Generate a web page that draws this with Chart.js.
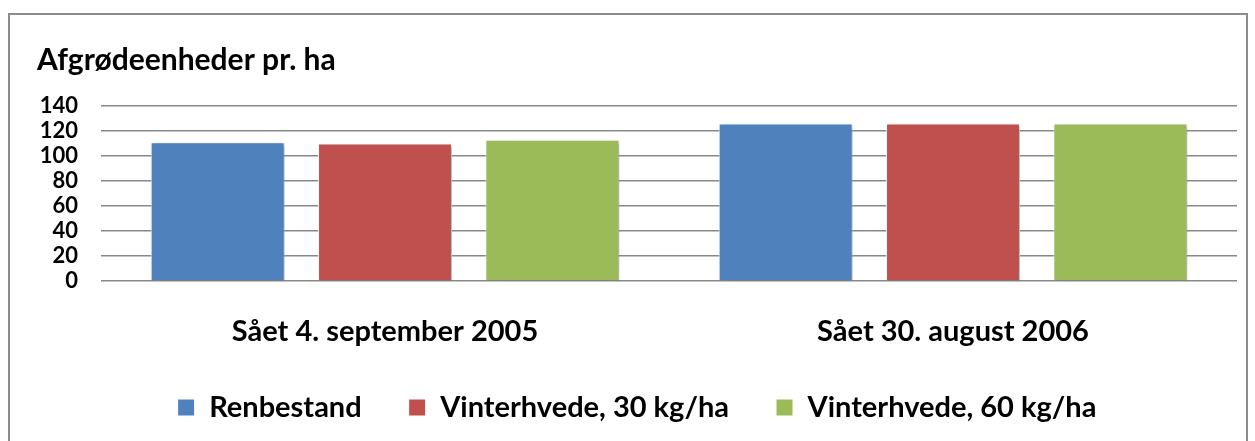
<!DOCTYPE html>
<html>
<head>
<meta charset="utf-8">
<script src="https://cdn.jsdelivr.net/npm/chart.js"></script>
<style>
    body { margin: 0; background: #fff; }
    #wrap { position: relative; width: 1255px; height: 441px; overflow: hidden; }
    #frame { position: absolute; left: 8px; top: 13px; width: 1240px; height: 460px; border: 2px solid #8c8c8c; box-sizing: border-box; }
    #chart { position: absolute; left: 0; top: 0; }
</style>
</head>
<body>
<div id="wrap">
    <div id="frame"></div>
    <canvas id="chart" width="1255" height="441"></canvas>
</div>
<script>
// Afgrødeenheder pr. ha - two sowing dates, three crop mixes
const categories = ['Sået 4. september 2005', 'Sået 30. august 2006'];
const seriesNames = ['Renbestand', 'Vinterhvede, 30 kg/ha', 'Vinterhvede, 60 kg/ha'];
const renbestand = [111, 126];
const vinterhvede30 = [110, 126];
const vinterhvede60 = [113, 126];
const yTicks = [0, 20, 40, 60, 80, 100, 120, 140];

const colors = ['#4f81bd', '#c0504d', '#9bbb59'];
const fontFamily = 'Lato, "Liberation Sans", sans-serif';

// soft shadow behind the bars, like the office chart
const barShadow = {
    id: 'barShadow',
    beforeDatasetsDraw(chart) {
        const ctx = chart.ctx;
        ctx.save();
        ctx.shadowColor = 'rgba(0, 0, 0, 0.35)';
        ctx.shadowBlur = 4;
        ctx.shadowOffsetX = 2;
        ctx.shadowOffsetY = 2;
    },
    afterDatasetsDraw(chart) {
        chart.ctx.restore();
    }
};

function makeDataset(i, values) {
    return {
        label: seriesNames[i],
        data: values,
        backgroundColor: colors[i],
        borderColor: '#ffffff',
        borderWidth: 1,
        barPercentage: 0.8,
        categoryPercentage: 0.884
    };
}

const ctx = document.getElementById('chart').getContext('2d');
new Chart(ctx, {
    type: 'bar',
    data: {
        labels: categories,
        datasets: [
            makeDataset(0, renbestand),
            makeDataset(1, vinterhvede30),
            makeDataset(2, vinterhvede60)
        ]
    },
    options: {
        responsive: false,
        animation: false,
        layout: {
            padding: { left: 37, right: 18, top: 15, bottom: 9 }
        },
        scales: {
            y: {
                min: 0,
                max: 140,
                afterBuildTicks: function(axis) {
                    axis.ticks = yTicks.map(v => ({ value: v }));
                },
                afterFit: function(axis) {
                    axis.width = 64;
                },
                border: { display: false },
                grid: {
                    color: '#888888',
                    lineWidth: 1.5,
                    drawTicks: false
                },
                ticks: {
                    color: '#000',
                    autoSkip: false,
                    padding: 23,
                    font: { family: fontFamily, size: 22, weight: 'bold' }
                }
            },
            x: {
                border: { display: false },
                grid: { display: false, drawTicks: false },
                afterFit: function(axis) {
                    axis.height = 65;
                },
                ticks: {
                    color: '#000',
                    padding: 36,
                    font: { family: fontFamily, size: 29, weight: 'bold', lineHeight: 1 }
                }
            }
        },
        plugins: {
            title: {
                display: true,
                text: 'Afgrødeenheder pr. ha',
                align: 'start',
                color: '#000',
                padding: { top: 27, bottom: 28 },
                font: { family: fontFamily, size: 30, weight: 'bold' }
            },
            legend: {
                position: 'bottom',
                labels: {
                    color: '#000',
                    boxWidth: 17,
                    boxHeight: 17,
                    padding: 47,
                    font: { family: fontFamily, size: 29, weight: 'bold', lineHeight: 1 }
                }
            },
            tooltip: { enabled: false }
        }
    },
    plugins: [barShadow]
});
</script>
</body>
</html>
